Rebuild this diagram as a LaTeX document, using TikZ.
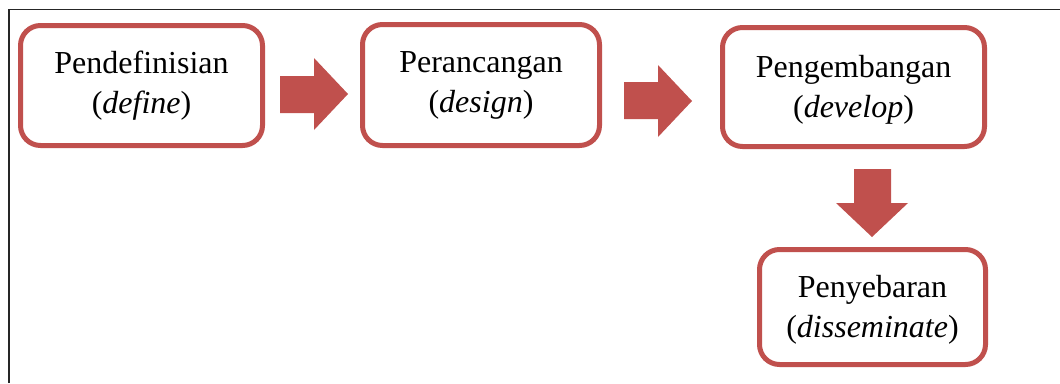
\documentclass[tikz,border=0pt]{standalone}
\usepackage{fontspec}
\setmainfont{Liberation Serif}
\definecolor{accred}{HTML}{C0504D}
\newcommand{\lowertext}{\rule{0pt}{28.5pt}}
\begin{document}
\begin{tikzpicture}[x=1pt,y=-1pt,
  stagebox/.style={draw=accred,line width=5pt,rounded corners=20pt,fill=white,
    inner sep=0pt,align=center,font=\fontsize{32}{40}\selectfont},
  blockarrow/.style={fill=accred,draw=none}]
\useasboundingbox (0,0) rectangle (1060,383);
\draw[line width=1.5pt,black!85] (9,383) -- (9,9.5) -- (1060,9.5);
\node[stagebox,minimum width=242pt,minimum height=120pt] (define) at (141.5,85.5)
  {Pendefinisian\\(\textit{define})};
\node[stagebox,minimum width=237pt,minimum height=121pt] (design) at (481,85)
  {Perancangan\\(\textit{design})};
\node[stagebox,minimum width=262pt,minimum height=119pt] (develop) at (853.5,87)
  {\lowertext Pengembangan\\(\textit{develop})};
\node[stagebox,minimum width=226pt,minimum height=115pt] (dissem) at (872.5,307)
  {\lowertext Penyebaran\\(\textit{disseminate})};
% block arrows
\fill[blockarrow] (280,76) -- (314,76) -- (314,58) -- (348,94) -- (314,130) -- (314,113) -- (280,113) -- cycle;
\fill[blockarrow] (624,82) -- (658,82) -- (658,65) -- (692,101) -- (658,137) -- (658,119) -- (624,119) -- cycle;
\fill[blockarrow] (854,169) -- (891,169) -- (891,203) -- (908,203) -- (872,237) -- (836,203) -- (854,203) -- cycle;
\end{tikzpicture}
\end{document}
